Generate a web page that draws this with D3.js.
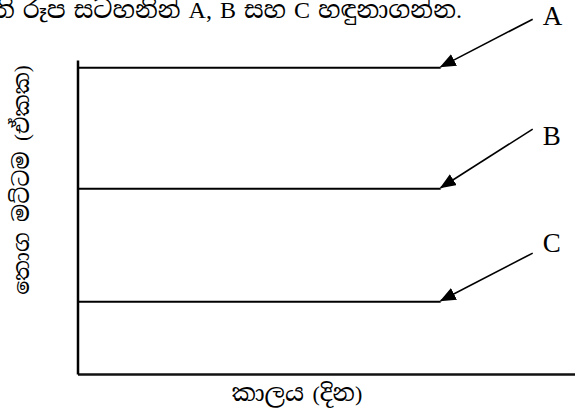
<!doctype html>
<html>
  <head>
    <meta charset='utf-8'>
    <script src="https://d3js.org/d3.v7.min.js"></script>
    <style>
      body { margin: 0; background: #fff; }
      svg { display: block; }
      .lbl { font-family: "Liberation Serif", "Times New Roman", serif; }
      .si { font-family: "Liberation Serif", "Noto Serif Sinhala", "Noto Sans Sinhala", serif; }
    </style>
  </head>
  <body>
  <svg width="575" height="411"></svg>
  <script>
    // stock levels (units) held flat over time, one per line
    const levelLabels = ["A", "B", "C"];
    const levelValues = [97.5, 59, 23];
    const levelEndDay = 73;
    // where each label's arrow starts, and where its letter sits (days, units)
    const arrowFromDay = [91.5, 91.5, 91.5];
    const arrowFromLevel = [113, 78, 38.5];
    const tagLevel = [111, 73, 39];

    const title = "ඇති රූප සටහනින් A, B සහ C හඳුනාගන්න.";
    const yTitle = "තොග මට්ටම (ඒකක)";
    const xTitle = "කාලය (දින)";

    const svg = d3.select("svg");
    const x = d3.scaleLinear().domain([0, 100]).range([77.5, 575]);
    const y = d3.scaleLinear().domain([0, 100]).range([374, 60]);

    // sinhala runs drawn a bit larger than the latin letters around them
    const mixed = (sel, str, siSize, latSize) => {
      str.split(/([\u0D80-\u0DFF\u200C\u200D]+)/).filter(s => s.length).forEach(s => {
        const si = /[\u0D80-\u0DFF]/.test(s);
        sel.append("tspan")
          .attr("font-size", si ? siSize : latSize)
          .text(s);
      });
    };

    svg.append("defs").append("marker")
      .attr("id", "head")
      .attr("viewBox", "0 0 16 13")
      .attr("refX", 15).attr("refY", 6.5)
      .attr("markerWidth", 16).attr("markerHeight", 13)
      .attr("markerUnits", "userSpaceOnUse")
      .attr("orient", "auto")
      .append("path")
        .attr("d", "M0,0L16,6.5L0,13Z")
        .attr("fill", "#000");

    // axes: plain lines, no ticks
    svg.append("g")
      .attr("transform", `translate(0,${y(0)})`)
      .call(d3.axisBottom(x).tickValues([]).tickSizeOuter(0))
      .call(g => g.select(".domain").attr("stroke", "#111").attr("stroke-width", 2.5));

    svg.append("g")
      .attr("transform", `translate(${x(0)},0)`)
      .call(d3.axisLeft(y).tickValues([]).tickSizeOuter(0))
      .call(g => g.select(".domain").attr("stroke", "#000").attr("stroke-width", 2.5));

    const rows = levelLabels.map((k, i) => ({
      label: k, level: levelValues[i],
      fromDay: arrowFromDay[i], fromLevel: arrowFromLevel[i], tag: tagLevel[i]
    }));

    svg.selectAll(".level")
      .data(rows)
      .enter().append("line")
        .attr("class", "level")
        .attr("x1", x(0)).attr("x2", x(levelEndDay))
        .attr("y1", d => y(d.level)).attr("y2", d => y(d.level))
        .attr("stroke", "#000").attr("stroke-width", 2);

    svg.selectAll(".arrow")
      .data(rows)
      .enter().append("line")
        .attr("class", "arrow")
        .attr("x1", d => x(d.fromDay)).attr("y1", d => y(d.fromLevel))
        .attr("x2", x(levelEndDay)).attr("y2", d => y(d.level) - 1)
        .attr("stroke", "#000").attr("stroke-width", 1.6)
        .attr("marker-end", "url(#head)");

    svg.selectAll(".tag")
      .data(rows)
      .enter().append("text")
        .attr("class", "tag lbl")
        .attr("x", d => x(d.fromDay) + 10)
        .attr("y", d => y(d.tag))
        .attr("font-size", 27)
        .text(d => d.label);

    svg.append("text")
      .attr("class", "si")
      .attr("x", 462).attr("y", 18)
      .attr("text-anchor", "end")
      .attr("word-spacing", 2)
      .call(mixed, title, 24.5, 24);

    svg.append("text")
      .attr("class", "si")
      .attr("transform", "translate(29,180) rotate(-90)")
      .attr("text-anchor", "middle")
      .attr("word-spacing", 5)
      .call(mixed, yTitle, 22, 21);

    svg.append("text")
      .attr("class", "si")
      .attr("x", 297).attr("y", 401)
      .attr("text-anchor", "middle")
      .attr("word-spacing", 3)
      .call(mixed, xTitle, 24, 22);
  </script>
  </body>
</html>
